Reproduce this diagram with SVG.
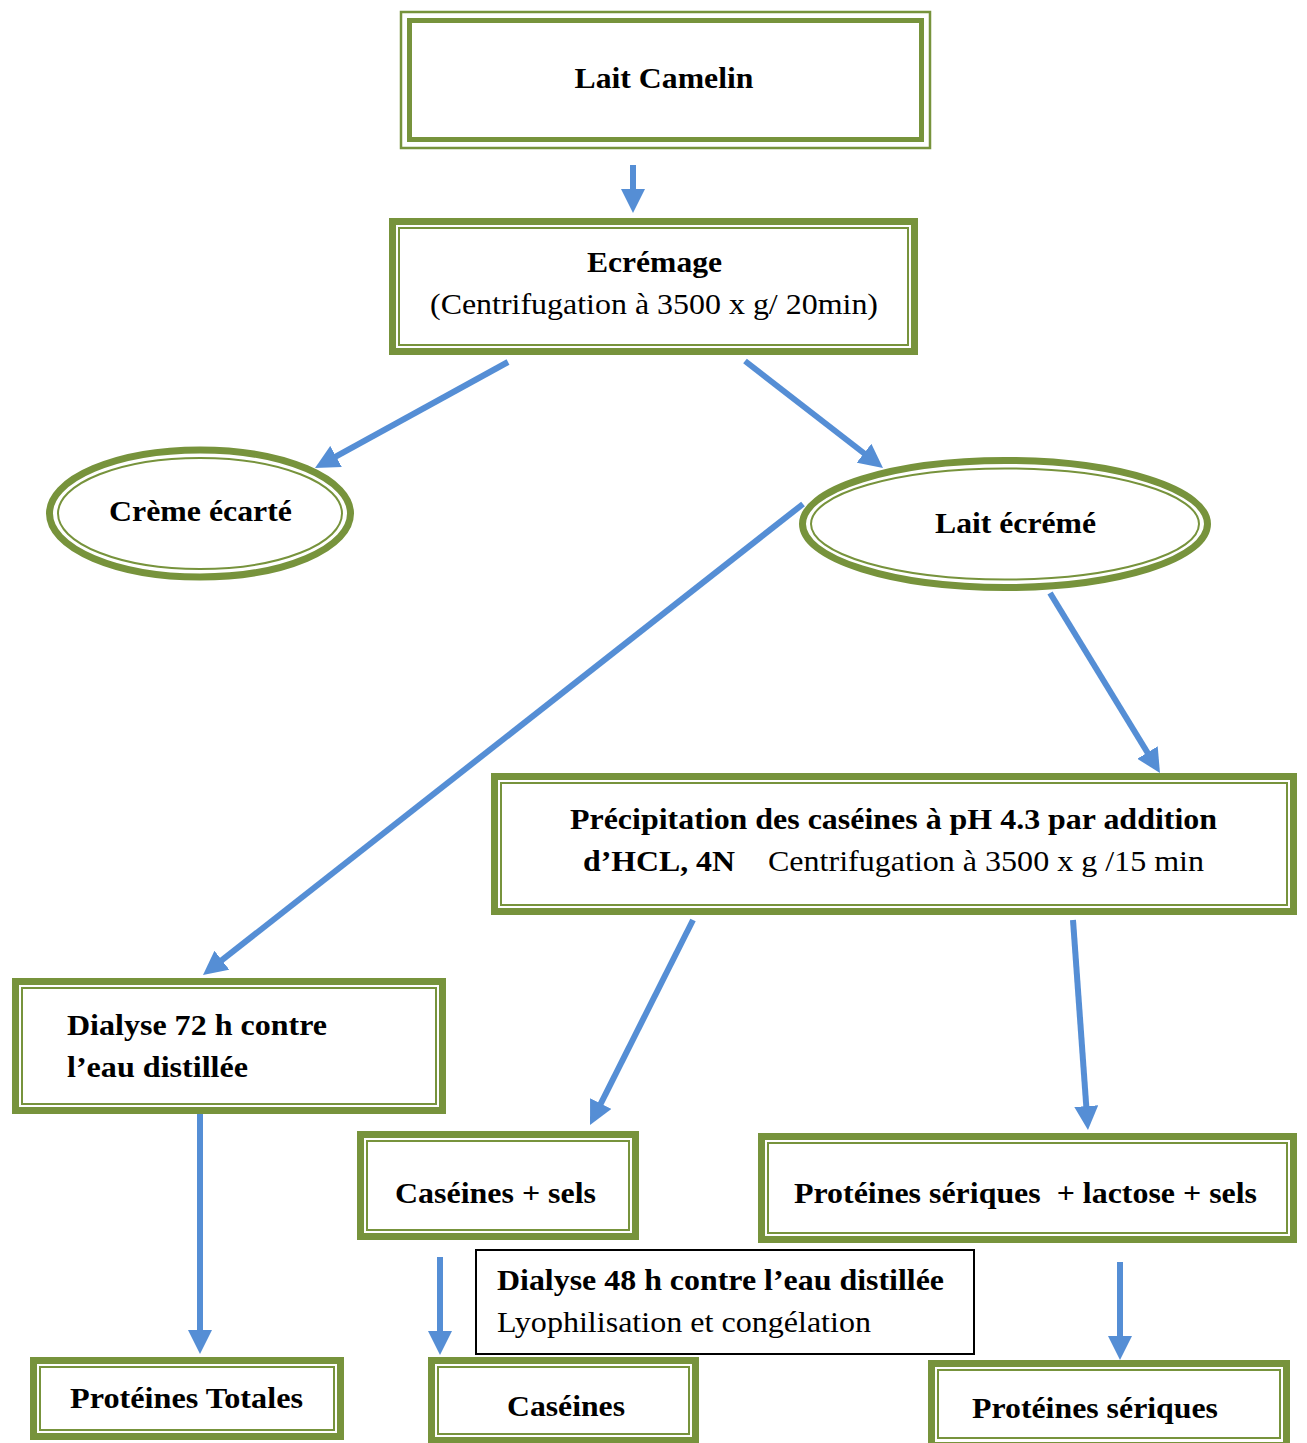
<svg xmlns="http://www.w3.org/2000/svg" width="1307" height="1443" viewBox="0 0 1307 1443">
<style>
.bg{fill:#ffffff}
.thick{fill:#ffffff;stroke:#77933C;stroke-width:7}
.thin{fill:none;stroke:#77933C;stroke-width:2}
.thinO{fill:#ffffff;stroke:#77933C;stroke-width:2.5}
.thickI{fill:none;stroke:#77933C;stroke-width:5}
.plain{fill:#ffffff;stroke:#000000;stroke-width:2}
.arrow{stroke:#558ED5;stroke-width:6;fill:none;marker-end:url(#ah)}
text{font-family:'Liberation Serif',Tinos,'Times New Roman',Times,serif;font-size:30px;fill:#000000}
.b{font-weight:bold}
.c{text-anchor:middle}
</style>
<defs>
<marker id="ah" markerUnits="userSpaceOnUse" viewBox="0 0 24 24" markerWidth="24" markerHeight="24" refX="2" refY="12" orient="auto">
<path d="M0,0 L24,12 L0,24 Z" fill="#558ED5"/>
</marker>
</defs>
<rect class="bg" x="0" y="0" width="1307" height="1443"/>

<g id="connectors">
<line class="arrow" x1="633" y1="165" x2="633" y2="191"/>
<line class="arrow" x1="508" y1="362" x2="334.3" y2="457.4"/>
<line class="arrow" x1="745" y1="361" x2="865.6" y2="454.5"/>
<line class="arrow" x1="803" y1="504" x2="220.3" y2="961.4"/>
<line class="arrow" x1="1050" y1="593" x2="1148.5" y2="754.2"/>
<line class="arrow" x1="693" y1="920" x2="599.9" y2="1105.3"/>
<line class="arrow" x1="1073" y1="920" x2="1086.4" y2="1108.1"/>
<line class="arrow" x1="200" y1="1098" x2="200" y2="1332"/>
<line class="arrow" x1="440" y1="1257" x2="440" y2="1333"/>
<line class="arrow" x1="1120" y1="1262" x2="1120" y2="1338"/>
</g>

<g font-family="Liberation Serif, serif">
<g id="lait-camelin">
<rect class="thinO" x="401" y="12" width="529" height="136"/>
<rect class="thickI" x="409.5" y="20.5" width="512" height="119"/>
<text class="b c" x="664" y="88" textLength="179" lengthAdjust="spacingAndGlyphs">Lait Camelin</text>
</g>

<g id="ecremage">
<rect class="thick" x="392.5" y="221.5" width="522" height="130"/>
<rect class="thin" x="399" y="228" width="509" height="117"/>
<text class="b c" x="654.5" y="272" textLength="135" lengthAdjust="spacingAndGlyphs">Ecrémage</text>
<text class="c" x="654" y="314" textLength="448" lengthAdjust="spacingAndGlyphs">(Centrifugation à 3500 x g/ 20min)</text>
</g>

<g id="creme-ecarte">
<ellipse class="thick" cx="200" cy="513.5" rx="150.5" ry="63.5"/>
<ellipse class="thin" cx="200" cy="513.5" rx="142" ry="55.5"/>
<text class="b c" x="200.5" y="521" textLength="183" lengthAdjust="spacingAndGlyphs">Crème écarté</text>
</g>

<g id="lait-ecreme">
<ellipse class="thick" cx="1005" cy="524" rx="202.5" ry="63.5"/>
<ellipse class="thin" cx="1005" cy="524" rx="194" ry="55.5"/>
<text class="b c" x="1015.5" y="533" textLength="161" lengthAdjust="spacingAndGlyphs">Lait écrémé</text>
</g>

<g id="precipitation">
<rect class="thick" x="494.5" y="776.5" width="799" height="135"/>
<rect class="thin" x="501" y="783" width="786" height="122"/>
<text class="b" x="570" y="829" textLength="647" lengthAdjust="spacingAndGlyphs">Précipitation des caséines à pH 4.3 par addition</text>
<text class="b" x="583" y="871" textLength="152" lengthAdjust="spacingAndGlyphs">d’HCL, 4N</text>
<text x="768" y="871" textLength="436" lengthAdjust="spacingAndGlyphs">Centrifugation à 3500 x g /15 min</text>
</g>

<g id="dialyse-72">
<rect class="thick" x="15.5" y="981.5" width="427" height="129"/>
<rect class="thin" x="22" y="988" width="414" height="116"/>
<text class="b" x="67" y="1035" textLength="260" lengthAdjust="spacingAndGlyphs">Dialyse 72 h contre</text>
<text class="b" x="67" y="1077" textLength="181" lengthAdjust="spacingAndGlyphs">l’eau distillée</text>
</g>

<g id="caseines-sels">
<rect class="thick" x="360.5" y="1134.5" width="275" height="102"/>
<rect class="thin" x="367" y="1141" width="262" height="89"/>
<text class="b" x="395" y="1203" textLength="201" lengthAdjust="spacingAndGlyphs">Caséines + sels</text>
</g>

<g id="proteines-lactose">
<rect class="thick" x="761.5" y="1136.5" width="532" height="103"/>
<rect class="thin" x="768" y="1143" width="519" height="90"/>
<text class="b" x="794" y="1203" textLength="463" lengthAdjust="spacingAndGlyphs">Protéines sériques &#160;+ lactose + sels</text>
</g>

<g id="dialyse-48">
<rect class="plain" x="476" y="1250" width="498" height="104"/>
<text class="b" x="497" y="1290" textLength="447" lengthAdjust="spacingAndGlyphs">Dialyse 48 h contre l’eau distillée</text>
<text x="497" y="1332" textLength="374" lengthAdjust="spacingAndGlyphs">Lyophilisation et congélation</text>
</g>

<g id="proteines-totales">
<rect class="thick" x="33.5" y="1360.5" width="307" height="76"/>
<rect class="thin" x="40" y="1367" width="294" height="63"/>
<text class="b" x="70" y="1408" textLength="233" lengthAdjust="spacingAndGlyphs">Protéines Totales</text>
</g>

<g id="caseines">
<rect class="thick" x="431.5" y="1360.5" width="264" height="80"/>
<rect class="thin" x="438" y="1367" width="251" height="67"/>
<text class="b" x="507" y="1416" textLength="118" lengthAdjust="spacingAndGlyphs">Caséines</text>
</g>

<g id="proteines-seriques">
<rect class="thick" x="931.5" y="1363.5" width="355" height="82"/>
<rect class="thin" x="938" y="1370" width="342" height="68"/>
<text class="b" x="972" y="1418" textLength="246" lengthAdjust="spacingAndGlyphs">Protéines sériques</text>
</g>
</g>
</svg>
